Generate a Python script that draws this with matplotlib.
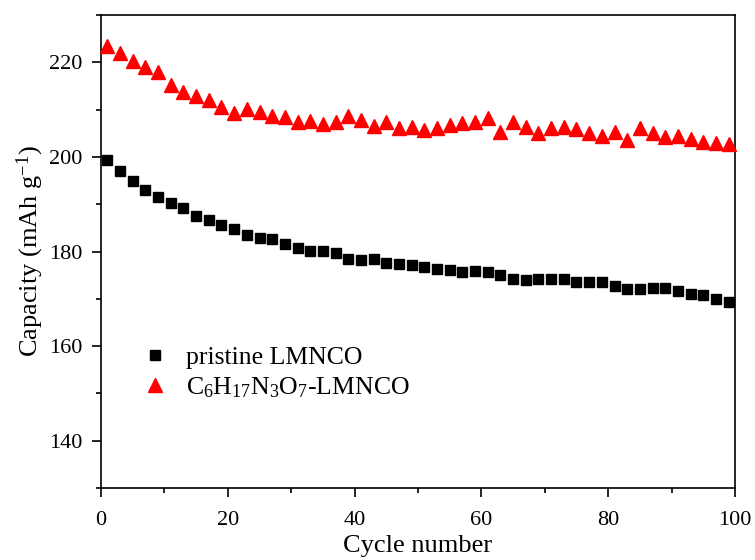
import matplotlib
matplotlib.use('Agg')
from matplotlib import pyplot as plt
from matplotlib.ticker import MultipleLocator

plt.rcParams['font.family'] = ['Liberation Serif', 'DejaVu Serif']
plt.rcParams['mathtext.fontset'] = 'custom'
plt.rcParams['mathtext.rm'] = 'Liberation Serif'
plt.rcParams['mathtext.it'] = 'Liberation Serif:italic'

# cycle number (every second cycle)
cycles = list(range(1, 100, 2))

# pristine LMNCO
pristine = [199.3, 197.0, 195.0, 193.0, 191.5, 190.2, 189.3, 187.5, 186.7, 185.7,
            184.7, 183.5, 182.8, 182.7, 181.7, 180.7, 180.2, 180.2, 179.7, 178.5,
            178.3, 178.5, 177.5, 177.4, 177.2, 176.7, 176.3, 176.0, 175.6, 175.9,
            175.7, 175.1, 174.2, 174.0, 174.2, 174.3, 174.2, 173.6, 173.5, 173.6,
            172.7, 172.0, 172.0, 172.2, 172.2, 171.6, 171.1, 170.8, 170.0, 169.4]

# coated LMNCO
coated = [223.5, 222.0, 220.3, 219.0, 218.0, 215.2, 213.8, 213.0, 212.0, 210.5,
          209.2, 210.2, 209.5, 208.7, 208.5, 207.5, 207.7, 207.0, 207.5, 208.6,
          207.8, 206.5, 207.3, 206.2, 206.3, 205.7, 206.2, 206.7, 207.2, 207.5,
          208.2, 205.2, 207.3, 206.3, 205.0, 206.2, 206.4, 206.0, 205.0, 204.5,
          205.2, 203.5, 206.2, 205.0, 204.3, 204.5, 203.7, 203.2, 203.0, 202.8]

fig = plt.figure(figsize=(7.55, 5.6), dpi=100)
ax = fig.add_axes([0.1338, 0.1286, 0.8397, 0.8444])

ax.plot(cycles, pristine, linestyle='none', marker='s', markersize=7.5,
        color='black', label='pristine LMNCO', clip_on=False, zorder=3)
ax.plot(cycles, coated, linestyle='none', marker='^', markersize=9.5,
        color='red', label=r'C$_6$H$_{17}$N$_3$O$_7$-LMNCO', clip_on=False, zorder=3)

ax.set_xlim(0, 100)
ax.set_ylim(130, 230)
ax.xaxis.set_major_locator(MultipleLocator(20))
ax.xaxis.set_minor_locator(MultipleLocator(10))
ax.yaxis.set_major_locator(MultipleLocator(20))
ax.yaxis.set_minor_locator(MultipleLocator(10))

ax.tick_params(which='both', direction='out', top=False, right=False, width=1.2)
ax.tick_params(which='major', length=6.5, labelsize=16)
ax.tick_params(which='minor', length=3.5)
ax.tick_params(axis='x', which='major', pad=10)
ax.tick_params(axis='y', which='major', pad=7)
for sp in ax.spines.values():
    sp.set_linewidth(1.2)

ax.set_xlabel('Cycle number', fontsize=19, labelpad=4)
ax.set_ylabel(r'Capacity (mAh g$^{-1}$)', fontsize=19, labelpad=2)

ax.legend(loc='upper left', bbox_to_anchor=(0.025, 0.35), frameon=False,
          fontsize=18.5, handletextpad=0.6, labelspacing=0.25, handlelength=1.2)

fig.savefig('out.png', dpi=100)
